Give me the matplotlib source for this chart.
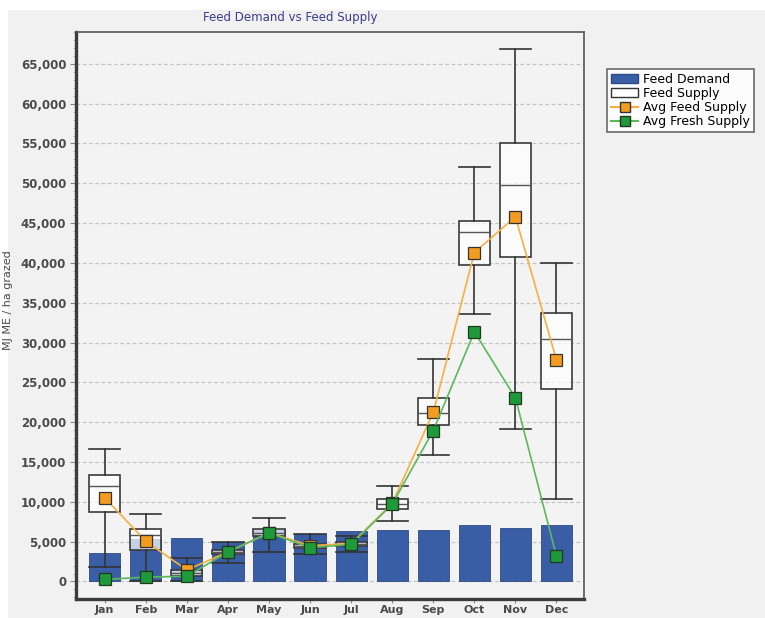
import matplotlib
matplotlib.use("Agg")
import matplotlib.pyplot as plt
from matplotlib.patches import Patch, Rectangle
from matplotlib.lines import Line2D
from matplotlib.ticker import FuncFormatter, MultipleLocator

months = ['Jan', 'Feb', 'Mar', 'Apr', 'May', 'Jun', 'Jul', 'Aug', 'Sep', 'Oct', 'Nov', 'Dec']

# feed demand (bars)
demand = [3600, 5300, 5400, 5000, 6500, 6000, 6300, 6450, 6450, 7150, 6750, 7150]

# feed supply spread (boxes)
supply_low = [1850, 50, 50, 2350, 3700, 3400, 3700, 7550, 15900, 33600, 19150, 10400]
supply_q1 = [8750, 3900, 750, 3500, 5700, 4150, 4400, 9150, 19600, 39800, 40700, 24200]
supply_med = [12000, 5800, 1100, 3750, 6100, 4500, 4750, 9750, 21200, 43900, 49800, 30450]
supply_q3 = [13400, 6600, 1500, 4000, 6600, 4750, 5000, 10300, 23100, 45300, 55100, 33700]
supply_high = [16600, 8500, 2950, 4900, 8000, 5950, 5750, 12050, 28000, 52000, 66900, 40000]

avg_feed = [10500, 5050, 1450, 3700, 6100, 4500, 4750, 9800, 21250, 41300, 45800, 27800]
avg_fresh = [250, 550, 650, 3700, 6100, 4250, 4650, 9700, 18950, 31350, 23050, 3150]

W, H = 765, 618
fig = plt.figure(figsize=(W / 100, H / 100), dpi=100, facecolor='white')
# light grey panel behind everything, white rim on top/left
fig.patches.append(Rectangle((8 / W, 0), 1, 1 - 10 / H, transform=fig.transFigure,
                             facecolor='#f1f1f1', edgecolor='none', zorder=-10))

ax = fig.add_axes([76 / W, 1 - 599 / H, (584 - 76) / W, (599 - 32) / H])
ax.set_facecolor('#f3f3f3')

x = list(range(len(months)))
ax.bar(x, demand, width=0.76, color='#3a5ea6', edgecolor='#2c4a85', linewidth=0.6, zorder=2)

stats = []
for i in range(len(months)):
    stats.append({'whislo': supply_low[i], 'q1': supply_q1[i], 'med': supply_med[i],
                  'q3': supply_q3[i], 'whishi': supply_high[i], 'fliers': []})
ax.bxp(stats, positions=x, widths=0.76, capwidths=0.76, showfliers=False, patch_artist=True,
       boxprops=dict(facecolor=(1, 1, 1, 0.72), edgecolor='#3a3a3a', linewidth=1.2),
       medianprops=dict(color='#555555', linewidth=1.0),
       whiskerprops=dict(color='#333333', linewidth=1.2),
       capprops=dict(color='#333333', linewidth=1.2),
       manage_ticks=False, zorder=3)

ax.plot(x, avg_feed, color='#f5b041', linewidth=1.2, marker='s', markersize=8,
        markerfacecolor='#f39c1f', markeredgecolor='#333333', markeredgewidth=0.9, zorder=4)
ax.plot(x, avg_fresh, color='#5cb85c', linewidth=1.2, marker='s', markersize=8,
        markerfacecolor='#1f9a3a', markeredgecolor='#1f3a1f', markeredgewidth=0.9, zorder=5)

ax.set_xlim(-0.7, 11.67)
ax.set_ylim(-2200, 69000)
ax.set_xticks(x)
ax.set_xticklabels(months)
ax.yaxis.set_major_locator(MultipleLocator(5000))
ax.yaxis.set_minor_locator(MultipleLocator(1000))
ax.yaxis.set_major_formatter(FuncFormatter(lambda v, p: f'{int(v):,}'))
ax.grid(axis='y', which='major', linestyle=(0, (3, 2)), color='#c4c4c4', linewidth=0.9, zorder=0)
ax.set_axisbelow(True)

ax.tick_params(axis='y', which='major', length=4, color='#888888', labelsize=8.5,
               labelcolor='#4a4a4a', pad=3)
ax.tick_params(axis='y', which='minor', length=2, color='#aaaaaa')
ax.tick_params(axis='x', length=3, color='#888888', labelsize=8, labelcolor='#4a4a4a', pad=1)
for lbl in ax.get_yticklabels() + ax.get_xticklabels():
    lbl.set_fontweight('bold')

for side in ['left', 'bottom']:
    ax.spines[side].set_linewidth(2.4)
    ax.spines[side].set_color('#3c3c3c')
for side in ['top', 'right']:
    ax.spines[side].set_linewidth(1.2)
    ax.spines[side].set_color('#555555')

ax.set_ylabel('MJ ME / ha grazed', fontsize=8, color='#4a4a4a')
ax.yaxis.set_label_coords((13 - 76) / (584 - 76), (599 - 300) / (599 - 32))
fig.text(290 / W, 1 - 18 / H, 'Feed Demand vs Feed Supply', ha='center', va='center',
         fontsize=8.5, color='#3b3b8a')

handles = [
    Patch(facecolor='#3a5ea6', edgecolor='#2c4a85'),
    Patch(facecolor='white', edgecolor='#333333'),
    Line2D([], [], color='#f5b041', marker='s', markersize=7, markerfacecolor='#f39c1f',
           markeredgecolor='#333333'),
    Line2D([], [], color='#5cb85c', marker='s', markersize=7, markerfacecolor='#1f9a3a',
           markeredgecolor='#1f3a1f'),
]
leg = fig.legend(handles, ['Feed Demand', 'Feed Supply', 'Avg Feed Supply', 'Avg Fresh Supply'],
                 loc='upper left', bbox_to_anchor=(607 / W, 1 - 69 / H), fontsize=9,
                 frameon=True, fancybox=False, borderpad=0.3, labelspacing=0.1,
                 handlelength=2.2, handletextpad=0.4, borderaxespad=0)
leg.get_frame().set_edgecolor('#444444')
leg.get_frame().set_linewidth(1.2)
leg.get_frame().set_facecolor('white')

fig.savefig('out.png', dpi=100)
